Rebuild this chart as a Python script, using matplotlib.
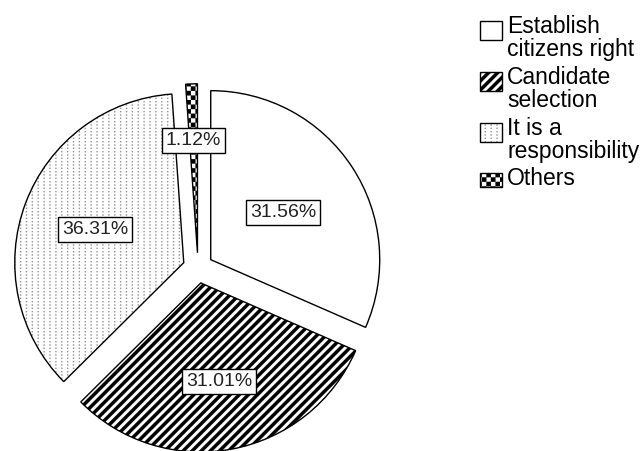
import numpy as np
import matplotlib
matplotlib.use("Agg")
import matplotlib.pyplot as plt
import matplotlib.hatch as mhatch
from matplotlib.path import Path
from matplotlib.patches import Rectangle
from matplotlib.legend_handler import HandlerPatch
from matplotlib.colors import to_rgba

# ---------------- data ----------------
categories = ["Establish\ncitizens right", "Candidate\nselection",
              "It is a\nresponsibility", "Others"]
values = [31.56, 31.01, 36.31, 1.12]
pct_labels = ["31.56%", "31.01%", "36.31%", "1.12%"]
hatches = ["", "O", "o", "*"]          # custom patterns registered below
hatch_colors = ["black", "black", "#8a8a8a", "black"]
label_dist = [0.60, 0.685, 0.65, 0.755]

plt.rcParams['font.family'] = ['Liberation Sans', 'DejaVu Sans']
plt.rcParams['hatch.linewidth'] = 0.1


# ---------------- custom fill patterns ----------------
def _rects_to_path_arrays(rects):
    verts, codes = [], []
    for x0, y0, x1, y1 in rects:
        verts += [[x0, y0], [x1, y0], [x1, y1], [x0, y1], [x0, y0]]
        codes += [Path.MOVETO, Path.LINETO, Path.LINETO, Path.LINETO, Path.CLOSEPOLY]
    return np.array(verts, float), np.array(codes, Path.code_type)


class _CustomHatch(mhatch.HatchPatternBase):
    char = None

    def __init__(self, hatch, density):
        if self.char in hatch:
            self._v, self._c = self.build()
            self.num_vertices = len(self._v)
        else:
            self.num_vertices = 0

    def set_vertices_and_codes(self, vertices, codes):
        vertices[:] = self._v
        codes[:] = self._c


class CheckerHatch(_CustomHatch):
    char = '*'

    def build(self):
        n = 22
        s = 1.0 / n
        rects = [(c * s, r * s, (c + 1) * s, (r + 1) * s)
                 for r in range(n) for c in range(n) if (r + c) % 2 == 0]
        return _rects_to_path_arrays(rects)


class StripeHatch(_CustomHatch):
    char = 'O'

    def build(self):
        k = 11
        p = 1.0 / k
        w = 0.52 * p
        verts, codes = [], []
        for i in range(-k - 1, k + 2):
            c = i * p
            verts += [[-1, -1 + c], [2, 2 + c], [2, 2 + c + w], [-1, -1 + c + w], [-1, -1 + c]]
            codes += [Path.MOVETO, Path.LINETO, Path.LINETO, Path.LINETO, Path.CLOSEPOLY]
        return np.array(verts, float), np.array(codes, Path.code_type)


class DotGridHatch(_CustomHatch):
    char = 'o'

    def build(self):
        nc, nr = 17, 30
        d = 0.006
        rects = []
        for i in range(nc):
            for j in range(nr):
                x = (i + 0.5) / nc
                y = (j + 0.5) / nr
                rects.append((x - d, y - d, x + d, y + d))
        return _rects_to_path_arrays(rects)


mhatch._hatch_types[:] = [
    mhatch.HorizontalHatch, mhatch.VerticalHatch,
    mhatch.NorthEastHatch, mhatch.SouthEastHatch,
    DotGridHatch, StripeHatch, mhatch.SmallFilledCircles, CheckerHatch,
]

# ---------------- figure ----------------
W, H = 641, 451
fig = plt.figure(figsize=(W / 100, H / 100), dpi=100)
ax = fig.add_axes([0, 0, 1, 1])

R = 169.0                 # pie radius in pixels
cx, cy = 198.0, 268.0     # pie centre in pixels (from top-left)

wedges, _ = ax.pie(values, explode=[0.09] * len(values), startangle=90,
                   counterclock=False, radius=1.0,
                   colors=['white'] * len(values),
                   wedgeprops=dict(edgecolor='black', linewidth=1.0))
for w, h, hc in zip(wedges, hatches, hatch_colors):
    w.set_hatch(h)
    w._hatch_color = to_rgba(hc)

for w, t, d in zip(wedges, pct_labels, label_dist):
    ang = np.deg2rad((w.theta1 + w.theta2) / 2)
    ax.text(d * np.cos(ang), d * np.sin(ang), t, ha='center', va='center',
            fontsize=14, color='#222222',
            bbox=dict(boxstyle='square,pad=0.2', facecolor='white',
                      edgecolor='black', linewidth=1.0))

ax.set_xlim(-cx / R, (W - cx) / R)
ax.set_ylim(-(H - cy) / R, cy / R)
ax.set_aspect('auto')
ax.axis('off')


def box_handler(dy_pt, h_pt=None):
    def make(legend, orig_handle, xdescent, ydescent, width, height, fontsize):
        hh = height if h_pt is None else h_pt
        return Rectangle((-xdescent, -ydescent + dy_pt), width, hh)
    return HandlerPatch(patch_func=make)


# two-line entries: box sits beside the first line; single line: shorter box
handler_map = {}
for w, lab in zip(wedges, categories):
    if "\n" in lab:
        handler_map[w] = box_handler(6.0)
    else:
        handler_map[w] = box_handler(0.0, 10.0)

leg = fig.legend(wedges, categories, loc='upper left',
                 bbox_to_anchor=(480 / W, (H - 15) / H),
                 frameon=False, fontsize=16.5, borderpad=0, borderaxespad=0,
                 handlelength=0.94, handleheight=0.92, handletextpad=0.245,
                 labelspacing=0.21, handler_map=handler_map)
for t in leg.get_texts():
    t.set_linespacing(1.0)
for lh, hc in zip(leg.legend_handles, hatch_colors):
    lh._hatch_color = to_rgba(hc)
    lh.set_edgecolor('black')
    lh._hatch_color = to_rgba(hc)

fig.savefig('out.png', dpi=100)
